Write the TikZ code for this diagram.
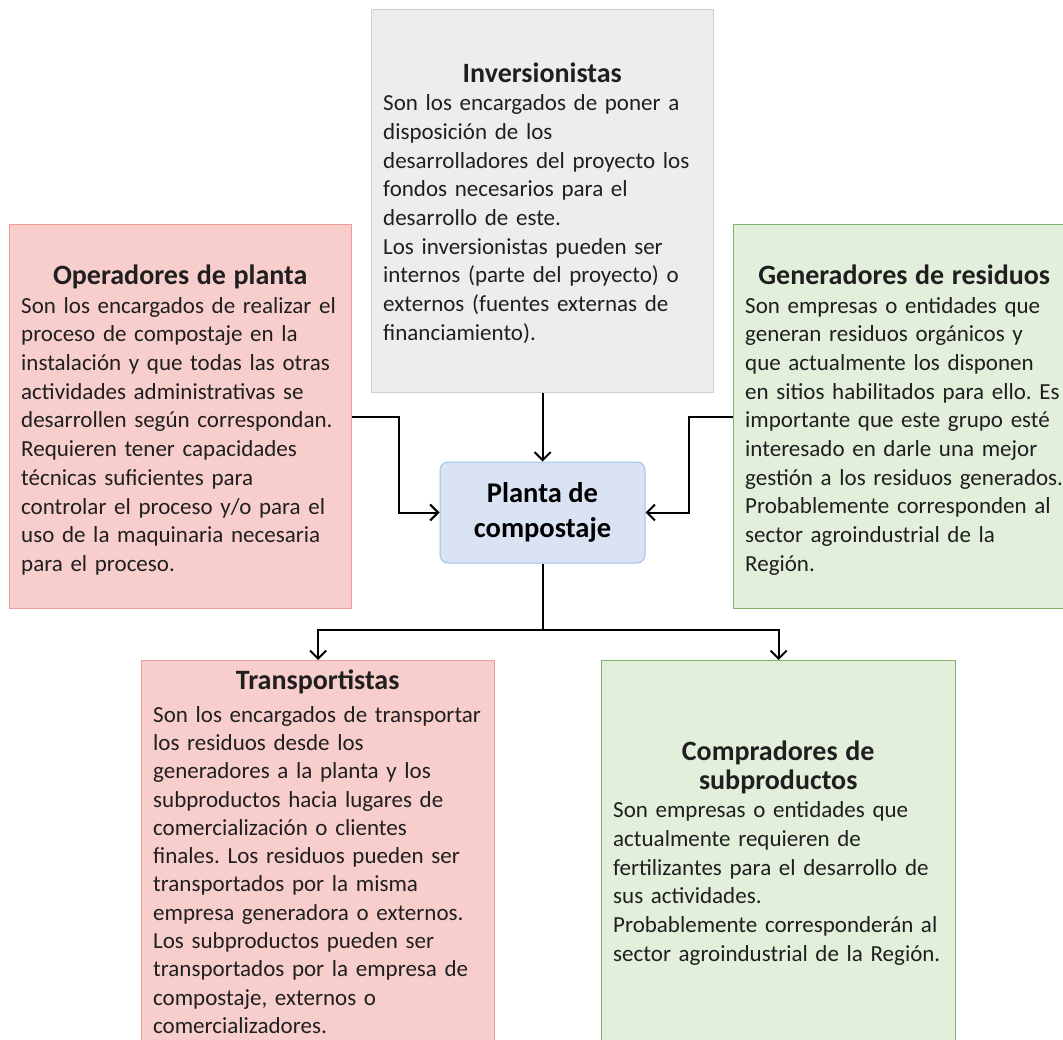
\documentclass[tikz,border=0pt]{standalone}
\usepackage{fontspec}
\setmainfont{Carlito}
\usetikzlibrary{arrows.meta}
\definecolor{redfill}{HTML}{F8CECC}
\definecolor{redline}{HTML}{F19C99}
\definecolor{grayfill}{HTML}{EDEDED}
\definecolor{grayline}{HTML}{D0D0D0}
\definecolor{greenfill}{HTML}{E2EFDA}
\definecolor{greenline}{HTML}{82B366}
\definecolor{bluefill}{HTML}{DAE3F3}
\definecolor{blueline}{HTML}{9DC3E6}
\newcommand\bodyfont{\fontsize{23}{28.7}\selectfont\frenchspacing}
\newcommand\ttlfont{\fontsize{28}{31}\selectfont\bfseries}
\newcommand\ttl[2]{\makebox[#1][c]{\ttlfont #2}}
\begin{document}
\begin{tikzpicture}[x=1pt,y=-1pt,
  box/.style={draw, line width=1.2pt, inner sep=0pt, anchor=north west},
  txt/.style={inner sep=0pt, align=left, font=\bodyfont, text=black!88, text width=380pt},
  conn/.style={line width=2pt, -{Straight Barb[length=8pt,width=16pt,line width=2pt]}},
  link/.style={line width=2pt}]
\useasboundingbox (0,0) rectangle (1063,1040);
\clip (0,0) rectangle (1063,1040);
\fill[white] (0,0) rectangle (1063,1040);

% boxes
\node[box, fill=grayfill, draw=grayline, minimum width=342pt, minimum height=383pt] (inv) at (371,9) {};
\node[box, fill=redfill, draw=redline, minimum width=342pt, minimum height=384pt] (op) at (9,224) {};
\node[box, fill=greenfill, draw=greenline, minimum width=342pt, minimum height=384pt] (gen) at (733,224) {};
\node[box, fill=redfill, draw=redline, minimum width=353pt, minimum height=400pt] (tr) at (141,660) {};
\node[box, fill=greenfill, draw=greenline, minimum width=354pt, minimum height=390pt] (co) at (601,660) {};
\node[draw=blueline, fill=bluefill, rounded corners=8pt, line width=1pt,
      minimum width=205pt, minimum height=101pt, align=center,
      font=\fontsize{28.5}{35}\selectfont\bfseries] (pl) at (542.5,512.5) {Planta de\\compostaje};

% texts
\node[txt, anchor=west] (invt) at (383,203) {\ttl{318pt}{Inversionistas}\\
Son los encargados de poner a\\
disposición de los\\
desarrolladores del proyecto los\\
fondos necesarios para el\\
desarrollo de este.\\
Los inversionistas pueden ser\\
internos (parte del proyecto) o\\
externos (fuentes externas de\\
financiamiento).};

\node[txt, anchor=west] (opt) at (21,420) {\ttl{318pt}{Operadores de planta}\\
Son los encargados de realizar el\\
proceso de compostaje en la\\
instalación y que todas las otras\\
actividades administrativas se\\
desarrollen según correspondan.\\
Requieren tener capacidades\\
técnicas suficientes para\\
controlar el proceso y/o para el\\
uso de la maquinaria necesaria\\
para el proceso.};

\node[txt, anchor=west] (gent) at (745,420) {\ttl{318pt}{Generadores de residuos}\\
Son empresas o entidades que\\
generan residuos orgánicos y\\
que actualmente los disponen\\
en sitios habilitados para ello. Es\\
importante que este grupo esté\\
interesado en darle una mejor\\
gestión a los residuos generados.\\
Probablemente corresponden al\\
sector agroindustrial de la\\
Región.};

\node[txt, anchor=north west, font=\fontsize{23}{28.3}\selectfont\frenchspacing] (trt) at (153,670) {\ttl{329pt}{Transportistas}\\[4pt]
Son los encargados de transportar\\
los residuos desde los\\
generadores a la planta y los\\
subproductos hacia lugares de\\
comercialización o clientes\\
finales. Los residuos pueden ser\\
transportados por la misma\\
empresa generadora o externos.\\
Los subproductos pueden ser\\
transportados por la empresa de\\
compostaje, externos o\\
comercializadores.};

\node[txt, anchor=west] (cot) at (613,853) {\ttl{330pt}{Compradores de}\\
\ttl{330pt}{subproductos}\\
Son empresas o entidades que\\
actualmente requieren de\\
fertilizantes para el desarrollo de\\
sus actividades.\\
Probablemente corresponderán al\\
sector agroindustrial de la Región.};

% connectors
\coordinate (split) at (542.5,630);
\draw[conn] (inv.south) -- (inv.south |- pl.north);
\draw[conn] (op.east) -- ++(47,0) |- (pl.west);
\draw[conn] (gen.west) -- ++(-44,0) |- (pl.east);
\draw[link] (pl.south) -- (split);
\draw[conn] (split) -| (tr.north);
\draw[conn] (split) -| (co.north);
\end{tikzpicture}
\end{document}
